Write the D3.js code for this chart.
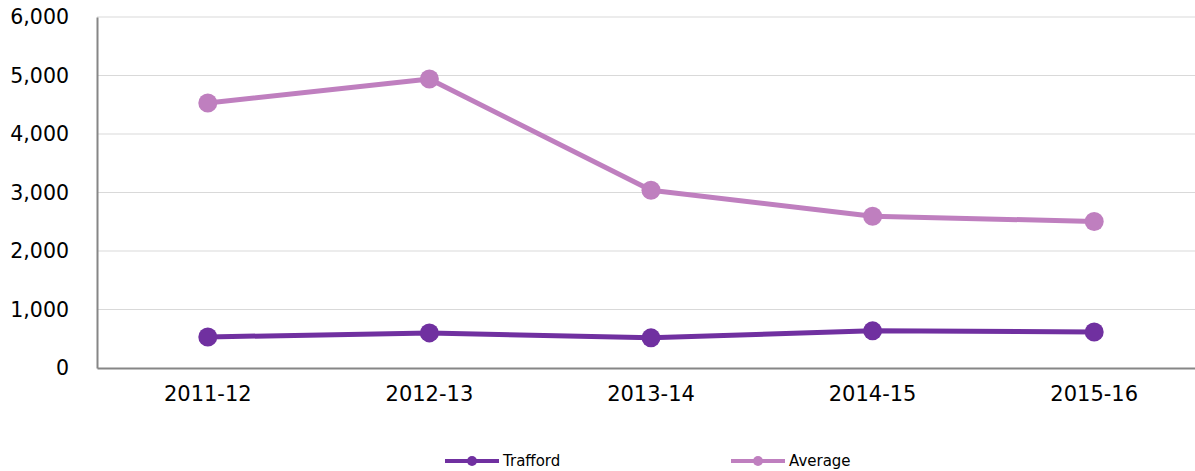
<!DOCTYPE html>
<html>
<head>
<meta charset="utf-8">
<script src="https://cdn.jsdelivr.net/npm/d3@7"></script>
<style>
  body { margin: 0; background: #fff; }
  text { font-family: "DejaVu Sans", Verdana, sans-serif; fill: #000; }
</style>
</head>
<body>
<div id="chart"></div>
<script>
let years = ['2011-12', '2012-13', '2013-14', '2014-15', '2015-16']
let trafford = [530, 600, 515, 635, 615]
let average = [4530, 4940, 3040, 2595, 2505]
let yTicks = [0, 1000, 2000, 3000, 4000, 5000, 6000]

let series = [
  { name: 'Trafford', values: trafford, color: '#7030a0' },
  { name: 'Average', values: average, color: '#bf7fbf' }
]

let margin = { top: 17, left: 97, right: -10, bottom: 103 }
let width = 1195 - margin.left - margin.right
let height = 471 - margin.top - margin.bottom

let svg = d3.select('#chart')
  .append('svg')
  .attr('width', 1195)
  .attr('height', 471)

let g = svg.append('g')
  .attr('transform', `translate(${margin.left},${margin.top})`)

let xScale = d3.scaleBand().domain(years).range([0, width])
let yScale = d3.scaleLinear().domain([0, 6000]).range([height, 0])

// gridlines
g.selectAll('.grid')
  .data(yTicks.slice(1))
  .enter()
  .append('line')
  .attr('class', 'grid')
  .attr('x1', 0)
  .attr('x2', width)
  .attr('y1', d => yScale(d))
  .attr('y2', d => yScale(d))
  .attr('stroke', '#d9d9d9')
  .attr('stroke-width', 1)

// y axis
let yAxis = g.append('g')
  .call(d3.axisLeft(yScale).tickValues(yTicks).tickSize(0).tickPadding(28).tickFormat(d3.format(',')))
yAxis.select('.domain').attr('stroke', '#868686').attr('stroke-width', 2)
yAxis.selectAll('text').style('font-size', '20.5px')

// x axis
let xAxis = g.append('g')
  .attr('transform', `translate(0,${height})`)
  .call(d3.axisBottom(xScale).tickSize(0).tickPadding(18))
xAxis.select('.domain').attr('stroke', '#868686').attr('stroke-width', 2)
xAxis.selectAll('text').style('font-size', '21px')

let line = d3.line()
  .x((d, i) => xScale(years[i]) + xScale.bandwidth() / 2)
  .y(d => yScale(d))

series.forEach(s => {
  g.append('path')
    .datum(s.values)
    .attr('d', line)
    .attr('fill', 'none')
    .attr('stroke', s.color)
    .attr('stroke-width', 5)
    .attr('stroke-linejoin', 'round')

  g.selectAll('.pt-' + s.name)
    .data(s.values)
    .enter()
    .append('circle')
    .attr('cx', (d, i) => xScale(years[i]) + xScale.bandwidth() / 2)
    .attr('cy', d => yScale(d))
    .attr('r', 9.5)
    .attr('fill', s.color)
})

// legend
let legend = svg.selectAll('.legend')
  .data(series)
  .enter()
  .append('g')
  .attr('class', 'legend')
  .attr('transform', (d, i) => `translate(${445 + i * 286},461)`)

legend.append('line')
  .attr('x1', 0)
  .attr('x2', 54)
  .attr('stroke', d => d.color)
  .attr('stroke-width', 4)
legend.append('circle')
  .attr('cx', 27)
  .attr('r', 5)
  .attr('fill', d => d.color)
legend.append('text')
  .attr('x', 58)
  .attr('dy', '0.35em')
  .style('font-size', '15px')
  .text(d => d.name)
</script>
</body>
</html>
